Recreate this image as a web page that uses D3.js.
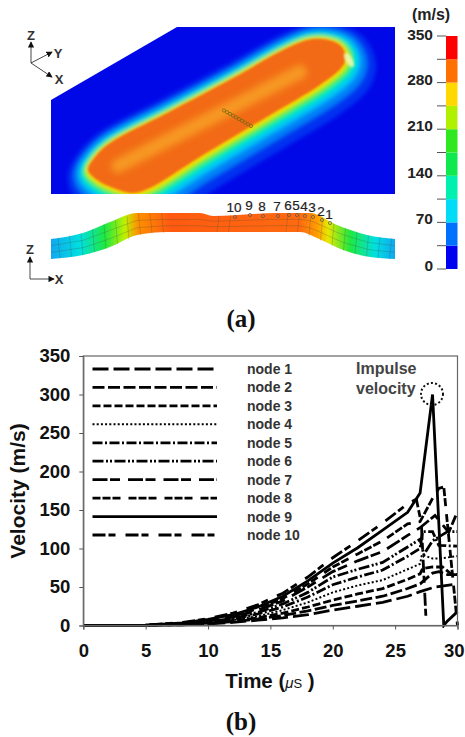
<!DOCTYPE html>
<html><head><meta charset="utf-8">
<script src="https://cdn.jsdelivr.net/npm/d3@7"></script>
<style>html,body{margin:0;padding:0;background:#fff}svg{display:block}text{font-family:"Liberation Sans",Arial,sans-serif}</style>
</head><body><svg id="c" width="465" height="737"></svg>
<script>
// ---------- chart (b) data ----------
const nodes=["node 1","node 2","node 3","node 4","node 5","node 6","node 7","node 8","node 9","node 10"];
const times=[0,5,8,10,12,14,16,18,20,22,24,26];
const node1=[0,0.1,1,2,4,7,10,14,20,25,30,38];
const node2=[0,0.1,1,2.5,5,8.5,13,19,26,32,38,48];
const node3=[0,0.2,1.5,3,6,10,16,24,33,41,48,60];
const node4=[0,0.2,1.5,3.5,7,12,20,30,43,52,59,73];
const node5=[0,0.2,2,4,8,15,24,37,53,63,72,90];
const node6=[0,0.2,2,5,9,17,28,43,63,73,82,102];
const node7=[0,0.3,2.5,6,11,20,32,50,70,84,96,117];
const node8=[0,0.3,3,7,12,22,35,54,76,93,110,132];
const node9=[0,0.3,3.5,8,14,24,38,58,81,101,124,147];
const node10=[0,0.3,4,9,16,27,42,63,88,110,133,158];
const tail1T=[27,28.2,30],tail1V=[44,50,54];
const tail2T=[27,28,28.5,29.2,30],tail2V=[54,68,70,66,66];
const tail3T=[27,27.2,28,28.8,29.4,30],tail3V=[67,74,76,76,68,66];
const tail4T=[27,27.15,28,28.5,30],tail4V=[80,92,87,87,90];
const tail5T=[27,27.2,28,28.5,30],tail5V=[100,122,122,104,103];
const tail6T=[27,27.3,28,29.2,30],tail6V=[112,92,110,122,122];
const tail7T=[27,28.2,29.3,30],tail7V=[127,143,121,148];
const tail8T=[27,28,28.5,28.9,30],tail8V=[135,165,178,180,0];
const tail9T=[27,28,28.9,29.2,30],tail9V=[172,300,0,6,18];
const tail10T=[26.7,27.1,27.5],tail10V=[164,133,0];
const series=[node1,node2,node3,node4,node5,node6,node7,node8,node9,node10];
const tailT=[tail1T,tail2T,tail3T,tail4T,tail5T,tail6T,tail7T,tail8T,tail9T,tail10T];
const tailV=[tail1V,tail2V,tail3V,tail4V,tail5V,tail6V,tail7V,tail8V,tail9V,tail10V];
const dashes=["16,5","12,3.5","8,3","2,2.2","10,2.5,2,2.5","11,2.5,2,2,2,2.5","15,2.5,10,8","8,2,8,2,8,8",null,"13,3,7,10"];
const xTicks=[0,5,10,15,20,25,30];
const yTicks=[0,50,100,150,200,250,300,350];

// ---------- panel (a) data ----------
const barColors=["#0000f0","#0070ff","#00dcf5","#00f0b0","#10e850","#30e820","#b0f000","#ffd800","#ff7000","#ff0000"];
const barTicks=[0,35,70,105,140,175,210,245,280,315,350];
const barLabels=[0,70,140,210,280,350];
const contourColors=["#0030f0","#0080f8","#00c8f5","#00f0b0","#30e840","#b0f000","#ffd800"];
const contourOffset=[25,17.5,12,8,5.5,3.5,1.8];
const sectionTop=[[51,239],[83,233],[110,222],[137,213],[200,213],[213,216],[277,213],[310,213],[337,225],[367,235],[395,239]];
const sectionBottom=[[51,259],[83,255],[110,247],[137,235],[167,232],[300,232],[317,238],[343,250],[370,257],[395,259]];
const sectionStops=[[51,"#10a8f0"],[80,"#00e0e0"],[105,"#20e840"],[125,"#c0f000"],[138,"#ff9000"],[170,"#ff5a10"],[300,"#ff6a10"],[318,"#ffa000"],[328,"#e8e800"],[350,"#20e840"],[375,"#00e0e0"],[395,"#10a8f0"]];
const nodeLabels=["1","2","3","4","5","6","7","8","9","10"];
const nodeLabelX=[329,321,312,304,296,288,277,262,249,234];
const nodeLabelY=[214,211,207,206,205,205,206,206,205,207];
const crownOutline=[[88,170],[95,157],[110,143],[167,113],[233,78],[283,50],[307,40],[323,39],[340,45],[346,57],[342,67],[320,85],[267,117],[200,157],[150,188],[133,193],[113,188],[97,180]];
const crownStripe=[[118,166],[300,72]];

const svg=d3.select("#c");
const defs=svg.append("defs");

// ---------- panel (a): plan view ----------
defs.append("clipPath").attr("id","plate").append("path").attr("d","M51,100L177,27L395,27L395,194L51,194Z");
const mkBlur=(id,s)=>defs.append("filter").attr("id",id).attr("x","-30%").attr("y","-60%").attr("width","160%").attr("height","220%")
  .append("feGaussianBlur").attr("stdDeviation",s);
mkBlur("soft",2);mkBlur("soft2",1);mkBlur("soft3",3.5);
const plate=svg.append("g").attr("clip-path","url(#plate)");
plate.append("rect").attr("x",51).attr("y",27).attr("width",344).attr("height",167).attr("fill","#0008e8");
const outline=d3.line().curve(d3.curveCatmullRomClosed.alpha(.5));
const crownD=outline(crownOutline);
const bands=plate.append("g").attr("filter","url(#soft)");
contourColors.forEach((c,i)=>{
  const shift=contourOffset[i]*0.2;
  bands.append("path").attr("d",crownD).attr("fill",c).attr("stroke",c)
    .attr("stroke-width",contourOffset[i]*2).attr("stroke-linejoin","round")
    .attr("transform",`translate(${shift},${shift*1.8})`);
});
plate.append("path").attr("d",crownD).attr("fill","#f26a18").attr("filter","url(#soft2)");
plate.append("path").attr("d",d3.line()(crownStripe)).attr("fill","none").attr("stroke","#f8a428")
  .attr("stroke-width",14).attr("stroke-linecap","round").attr("opacity",.8).attr("filter","url(#soft3)");
plate.append("ellipse").attr("cx",349).attr("cy",60).attr("rx",3.5).attr("ry",8).attr("transform","rotate(-30 349 60)")
  .attr("fill","#eaf8b0").attr("opacity",.9).attr("filter","url(#soft2)");
d3.range(10).forEach(i=>{
  plate.append("circle").attr("cx",224+i*3).attr("cy",110.5+i*1.72).attr("r",1.6)
    .attr("fill","none").attr("stroke","#7a6a10").attr("stroke-width",.8);
});

// ---------- panel (a): section ----------
const grad=defs.append("linearGradient").attr("id","sec").attr("gradientUnits","userSpaceOnUse")
  .attr("x1",51).attr("x2",395).attr("y1",0).attr("y2",0);
sectionStops.forEach(s=>grad.append("stop").attr("offset",(s[0]-51)/344).attr("stop-color",s[1]));
const secLine=d3.line().curve(d3.curveMonotoneX);
const secD=secLine(sectionTop)+"L"+secLine(sectionBottom.slice().reverse()).slice(1);
svg.append("path").attr("d",secD).attr("fill","url(#sec)");
const topAt=d3.scaleLinear().domain(sectionTop.map(d=>d[0])).range(sectionTop.map(d=>d[1]));
const botAt=d3.scaleLinear().domain(sectionBottom.map(d=>d[0])).range(sectionBottom.map(d=>d[1]));
const mesh=svg.append("g").attr("stroke","#3a4a3a").attr("stroke-opacity",.4).attr("stroke-width",.6).attr("fill","none");
d3.range(58,395,11.5).forEach(x=>{
  if(x>155&&x<300&&(Math.round(x)%3)) return;
  mesh.append("line").attr("x1",x).attr("x2",x-(x<200?-2:2)).attr("y1",topAt(x)).attr("y2",botAt(x));
});
[1/3,2/3].forEach(f=>{
  const xs=d3.range(51,396,4);
  mesh.append("path").attr("d",d3.line()(xs.map(x=>[x,topAt(x)+(botAt(x)-topAt(x))*f])));
});
nodeLabels.forEach((t,i)=>{
  svg.append("text").attr("x",nodeLabelX[i]).attr("y",nodeLabelY[i]+5).attr("text-anchor","middle")
    .attr("font-size",13.5).attr("fill","#222").attr("stroke","#222").attr("stroke-width",.2).text(t);
  svg.append("circle").attr("cx",nodeLabelX[i]+1).attr("cy",nodeLabelY[i]+(i<2?9:10)).attr("r",1.6)
    .attr("fill","none").attr("stroke","#555").attr("stroke-width",.7);
});

// ---------- colour bar ----------
const barY=d3.scaleLinear().domain([0,350]).range([269,36]);
const bar=svg.append("g");
barColors.forEach((c,i)=>{
  bar.append("rect").attr("x",446).attr("width",11.5)
    .attr("y",barY(barTicks[i+1])).attr("height",barY(barTicks[i])-barY(barTicks[i+1])).attr("fill",c);
});
barTicks.forEach(t=>{
  bar.append("line").attr("x1",437).attr("x2",446).attr("y1",barY(t)).attr("y2",barY(t)).attr("stroke","#555").attr("stroke-width",1);
});
barLabels.forEach(t=>{
  bar.append("text").attr("x",433).attr("y",barY(t)+(t==350?4:2)).attr("text-anchor","end")
    .attr("font-size",15.5).attr("font-weight","bold").attr("fill","#222").text(t);
});
bar.append("text").attr("x",431).attr("y",20).attr("text-anchor","middle").attr("font-size",16).attr("font-weight","bold").attr("fill","#222").text("(m/s)");

// ---------- coordinate triads ----------
const arrow=defs.append("marker").attr("id","ah").attr("viewBox","0 0 8 8").attr("refX",7).attr("refY",4)
  .attr("markerWidth",7).attr("markerHeight",7).attr("orient","auto");
arrow.append("path").attr("d","M0,0L8,4L0,8Z").attr("fill","#111");
function triad(o,ends,labels){
  const g=svg.append("g");
  ends.forEach(e=>g.append("line").attr("x1",o[0]).attr("y1",o[1]).attr("x2",e[0]).attr("y2",e[1])
    .attr("stroke","#333").attr("stroke-width",.9).attr("marker-end","url(#ah)"));
  labels.forEach(l=>g.append("text").attr("x",l[1]).attr("y",l[2]).attr("text-anchor","middle")
    .attr("font-size",13).attr("font-weight","bold").attr("fill","#333").text(l[0]));
}
triad([31,63],[[31,42],[52,52],[52,77]],[["Z",31,40],["Y",58,58],["X",59,84]]);
triad([30,279],[[30,257],[54,279]],[["Z",30,254],["X",59,284]]);

// captions
svg.append("text").attr("x",241).attr("y",327).attr("text-anchor","middle").style("font-family","'Liberation Serif',serif")
  .attr("font-size",25).attr("font-weight","bold").attr("fill","#111").text("(a)");
svg.append("text").attr("x",241).attr("y",730).attr("text-anchor","middle").style("font-family","'Liberation Serif',serif")
  .attr("font-size",25).attr("font-weight","bold").attr("fill","#111").text("(b)");

// ---------- chart (b) ----------
const x=d3.scaleLinear().domain([0,30]).range([83.3,457.5]);
const y=d3.scaleLinear().domain([0,350]).range([625.5,356]);
defs.append("clipPath").attr("id","plot").append("rect").attr("x",83).attr("y",356).attr("width",376).attr("height",272);
const plot=svg.append("g").attr("clip-path","url(#plot)");
const line=d3.line().x(d=>x(d[0])).y(d=>y(d[1]));
series.forEach((s,i)=>{
  const pts=times.map((t,j)=>[t,s[j]]).concat(tailT[i].map((t,j)=>[t,tailV[i][j]]));
  plot.append("path").attr("d",line(pts)).attr("fill","none").attr("stroke","#000")
    .attr("stroke-width",i===3?2:2.8).attr("stroke-dasharray",dashes[i]);
});
svg.append("rect").attr("x",83.3).attr("y",356).attr("width",374.2).attr("height",269.5).attr("fill","none").attr("stroke","#666").attr("stroke-width",1.2);
const gx=svg.append("g").attr("transform","translate(0,625.5)").call(d3.axisBottom(x).tickValues(xTicks).tickSize(4).tickPadding(14));
const gy=svg.append("g").attr("transform","translate(83.3,0)").call(d3.axisLeft(y).tickValues(yTicks).tickSize(4).tickPadding(9));
[gx,gy].forEach(g=>{
  g.select(".domain").attr("stroke","#666").attr("stroke-width",1.2);
  g.selectAll("line").attr("stroke","#555");
  g.selectAll("text").attr("font-size",18.5).attr("font-weight","bold").attr("fill","#111").style("font-family","'Liberation Sans',Arial,sans-serif");
});
// the last x label would leave the page: keep it inside
gx.selectAll(".tick").filter(d=>d===30).select("text").attr("x",-3.8);
svg.append("text").attr("transform","translate(25,491) rotate(-90)").attr("text-anchor","middle")
  .attr("font-size",21).attr("font-weight","bold").attr("fill","#111").text("Velocity (m/s)");
const xl=svg.append("text").attr("x",270).attr("y",688).attr("text-anchor","middle")
  .attr("font-size",20.5).attr("font-weight","bold").attr("fill","#111");
xl.append("tspan").text("Time (");
xl.append("tspan").attr("font-size",15).attr("font-style","italic").attr("font-weight","normal").text("μ");
xl.append("tspan").attr("font-size",13).attr("font-weight","normal").text("S");
xl.append("tspan").text(" )");

// legend
const legendY=d3.scaleLinear().domain([0,9]).range([369,535]);
nodes.forEach((n,i)=>{
  svg.append("line").attr("x1",92.5).attr("x2",217).attr("y1",legendY(i)).attr("y2",legendY(i))
    .attr("stroke","#000").attr("stroke-width",i===3?2:2.8).attr("stroke-dasharray",dashes[i]);
  svg.append("text").attr("x",247).attr("y",legendY(i)+5).attr("font-size",14).attr("font-weight","bold").attr("fill","#333").text(n);
});

// annotation
svg.append("text").attr("x",356).attr("y",374).attr("font-size",16).attr("font-weight","bold").attr("fill","#444").text("Impulse");
svg.append("text").attr("x",356).attr("y",394).attr("font-size",16).attr("font-weight","bold").attr("fill","#444").text("velocity");
svg.append("circle").attr("cx",432).attr("cy",394).attr("r",11).attr("fill","none").attr("stroke","#111").attr("stroke-width",2).attr("stroke-dasharray","2,2.2");
</script></body></html>
